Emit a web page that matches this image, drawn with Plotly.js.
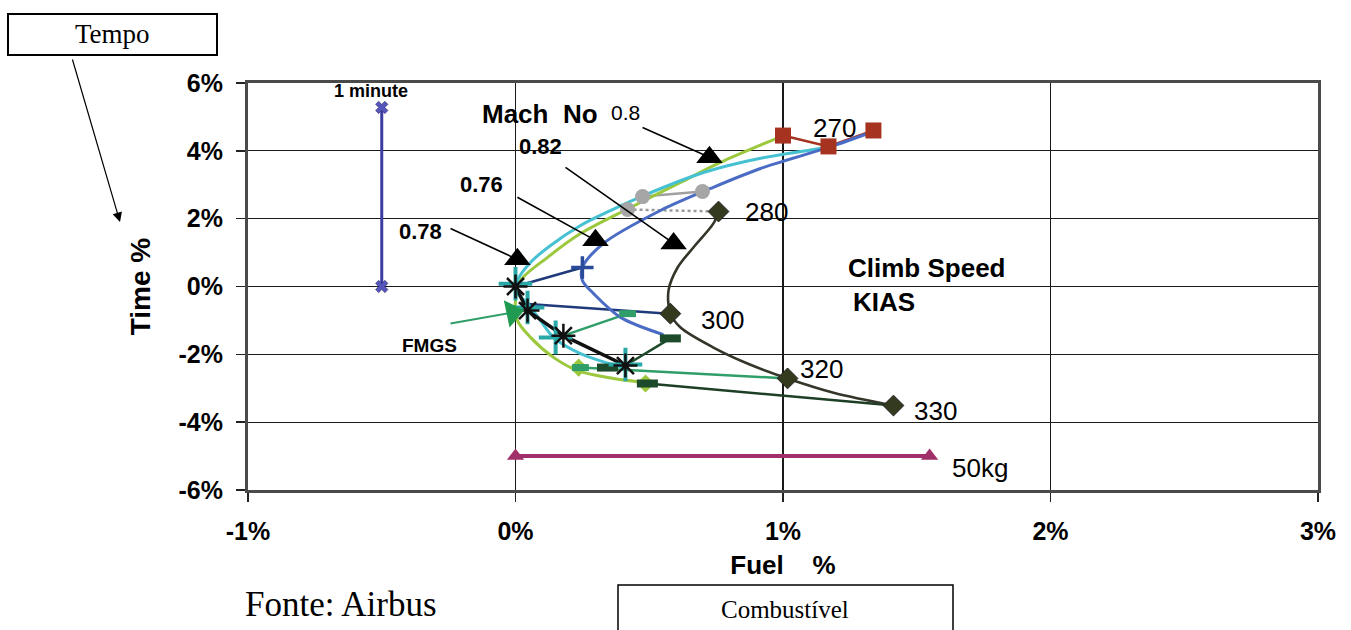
<!DOCTYPE html>
<html>
<head>
<meta charset="utf-8">
<script src="https://cdn.plot.ly/plotly-3.0.1.min.js"></script>
<style>
html,body{margin:0;padding:0;background:#fff;}
#chart{width:1351px;height:630px;}
</style>
</head>
<body>
<div id="chart"></div>
<script>
// ---------- data (fuel %, time %) ----------
const xTickVals = [-1, 0, 1, 2, 3];
const xTickText = ['-1%', '0%', '1%', '2%', '3%'];
const yTickVals = [-6, -4, -2, 0, 2, 4, 6];
const yTickText = ['-6%', '-4%', '-2%', '0%', '2%', '4%', '6%'];

// constant-Mach curves
const greenFuel = [1.002, 0.766, 0.617, 0.430, 0.243, 0.120, 0.019, 0.0, 0.007, 0.056, 0.142, 0.232, 0.366, 0.493];
const greenTime = [4.45, 3.66, 3.07, 2.33, 1.56, 0.86, 0.18, -0.41, -1.00, -1.50, -2.09, -2.48, -2.71, -2.83];
const cyanFuel = [1.166, 0.916, 0.703, 0.479, 0.355, 0.243, 0.131, 0.056, 0.007, 0.0, 0.045, 0.093, 0.142, 0.243, 0.400];
const cyanTime = [4.10, 3.78, 3.36, 2.68, 2.24, 1.80, 1.21, 0.71, 0.18, -0.12, -0.50, -1.00, -1.50, -1.98, -2.39];
const blueFuel = [1.338, 1.170, 0.916, 0.729, 0.542, 0.329, 0.250, 0.250, 0.292, 0.393, 0.553];
const blueTime = [4.57, 4.10, 3.48, 2.89, 2.24, 1.27, 0.56, 0.18, -0.21, -0.91, -1.42];
const darkFuel = [0.759, 0.740, 0.665, 0.606, 0.572, 0.579, 0.617, 0.740, 0.867, 1.017, 1.189, 1.413];
const darkTime = [2.21, 1.86, 1.15, 0.56, -0.12, -0.80, -1.21, -1.80, -2.27, -2.71, -3.13, -3.51];

// constant climb-speed points
const kiasFuel = [0.759, 0.579, 1.017, 1.413];
const kiasTime = [2.21, -0.80, -2.71, -3.51];
const redFuel = [1.0, 1.17, 1.338];
const redTime = [4.45, 4.13, 4.60];
const grayFuel = [0.419, 0.475, 0.699];
const grayTime = [2.27, 2.65, 2.80];
const grayLineFuel = [0.475, 0.699];
const grayLineTime = [2.65, 2.80];
const grayDashFuel = [0.419, 0.759];
const grayDashTime = [2.27, 2.21];

const starFuel = [0.0, 0.045, 0.179, 0.411];
const starTime = [0.0, -0.71, -1.45, -2.33];
const navy1Fuel = [0.0, 0.25];
const navy1Time = [0.0, 0.56];
const navy2Fuel = [0.02, 0.575];
const navy2Time = [-0.50, -0.80];
const sea1Fuel = [0.179, 0.419];
const sea1Time = [-1.45, -0.80];
const sea2Fuel = [0.243, 1.017];
const sea2Time = [-2.39, -2.71];
const dg1Fuel = [0.411, 0.579];
const dg1Time = [-2.33, -1.53];
const dg2Fuel = [0.493, 1.413];
const dg2Time = [-2.86, -3.51];
const dgMarkFuel = [0.344, 0.493, 0.579];
const dgMarkTime = [-2.39, -2.86, -1.53];
const lgDiaFuel = [0.236, 0.486];
const lgDiaTime = [-2.39, -2.86];
const seaMarkFuel = [0.419, 0.243];
const seaMarkTime = [-0.80, -2.39];
const tealFuel = [0.0, 0.045, 0.15, 0.411];
const tealTime = [0.08, -0.62, -1.5, -2.30];

// scale bars
const minuteFuel = [-0.5, -0.5];
const minuteTime = [0, 5.28];
const kgFuel = [0, 1.548];
const kgTime = [-5, -5];

// Mach arrows
const machLabels = ['0.78', '0.76', '0.82', '0.8'];
const arrowFromFuel = [-0.243, 0.007, 0.187, 0.475];
const arrowFromTime = [1.71, 2.63, 3.51, 4.69];
const arrowToFuel = [0.007, 0.299, 0.591, 0.725];
const arrowToTime = [0.80, 1.36, 1.27, 3.81];
const fmgsFuel = [-0.243, -0.011];
const fmgsTime = [-1.09, -0.77];

// ---------- traces ----------
const traces = [];
function line(x, y, color, width, dash) {
  return {x: x, y: y, mode: 'lines', type: 'scatter', hoverinfo: 'skip',
    line: {color: color, width: width, dash: dash || 'solid'}};
}
function marks(x, y, symbol, size, color, lineColor, lineWidth) {
  return {x: x, y: y, mode: 'markers', type: 'scatter', hoverinfo: 'skip',
    marker: {symbol: symbol, size: size, color: color,
      line: {color: lineColor || color, width: lineWidth || 0}}};
}
function curve(x, y, color, width) {
  return {x: x, y: y, mode: 'lines', type: 'scatter', hoverinfo: 'skip',
    line: {color: color, width: width, shape: 'spline', smoothing: 0.9}};
}

traces.push(line(minuteFuel, minuteTime, '#3b3ba0', 3));
traces.push(marks(minuteFuel, minuteTime, 'x', 11, '#5555bb', '#222255', 0.5));
traces.push(line(kgFuel, kgTime, '#a0306a', 4));
traces.push(marks(kgFuel, kgTime, 'triangle-up', 15, '#a0306a'));

traces.push(line(grayDashFuel, grayDashTime, '#9a9a9a', 2.5, 'dot'));
traces.push(line(grayLineFuel, grayLineTime, '#a0a0a0', 2.5));
traces.push(line(redFuel, redTime, '#a5331f', 2.5));

traces.push(line(sea2Fuel, sea2Time, '#2f9e68', 2.5));
traces.push(line(dg2Fuel, dg2Time, '#1d3f25', 2.5));
traces.push(line(navy2Fuel, navy2Time, '#1f3a7a', 2.5));
traces.push(line(navy1Fuel, navy1Time, '#1f3a7a', 2.5));
traces.push(line(sea1Fuel, sea1Time, '#2f9e68', 2.5));
traces.push(line(dg1Fuel, dg1Time, '#1d4a2a', 2.5));

traces.push(curve(greenFuel, greenTime, '#9bc83c', 3));
traces.push(curve(cyanFuel, cyanTime, '#45c1d2', 3));
traces.push(curve(blueFuel, blueTime, '#4b6cc4', 3));
traces.push(curve(darkFuel, darkTime, '#34362a', 2.6));

traces.push(line(starFuel, starTime, '#111111', 3.5));

traces.push(marks(lgDiaFuel, lgDiaTime, 'diamond', 14, '#9bc83c'));
traces.push(marks(dgMarkFuel, dgMarkTime, 'line-ew-open', 15, '#1d4a2a', '#1d4a2a', 8));
traces.push(marks(seaMarkFuel, seaMarkTime, 'line-ew-open', 12, '#2f9e68', '#2f9e68', 7));
traces.push(marks([navy1Fuel[1]], [navy1Time[1]], 'cross-thin-open', 16, '#2a4a9a', '#2a4a9a', 3.5));
traces.push(marks(tealFuel, tealTime, 'cross-thin-open', 24, '#2aa7a7', '#2aa7a7', 4));
traces.push(marks(starFuel, starTime, 'asterisk-open', 20, '#111111', '#111111', 2.5));

traces.push(marks(grayFuel, grayTime, 'circle', 15, '#a6a6a6'));
traces.push(marks(redFuel, redTime, 'square', 16, '#a5331f'));
traces.push(marks(kiasFuel, kiasTime, 'diamond', 16, '#333a1e', '#222222', 1));

// Mach arrows: line + triangle head
for (let i = 0; i < machLabels.length; i++) {
  traces.push(line([arrowFromFuel[i], arrowToFuel[i]], [arrowFromTime[i], arrowToTime[i]], '#000', 1.6));
  traces.push(marks([arrowToFuel[i]], [arrowToTime[i]], 'triangle-up', 23, '#000'));
}
// FMGS arrow
traces.push(line(fmgsFuel, fmgsTime, '#2f9e68', 2));
traces.push({x: [fmgsFuel[1]], y: [fmgsTime[1]], type: 'scatter', mode: 'markers', hoverinfo: 'skip',
  marker: {symbol: 'triangle-right', size: 24, color: '#1f9a50', angle: -12}});

// ---------- layout ----------
const L = 248, R = 1318, T = 83, B = 490;
const px = v => (v - L) / (R - L);
const py = v => (B - v) / (B - T);

const SANS = 'Liberation Sans, Arial, sans-serif';
const SERIF = 'Liberation Serif, Times New Roman, serif';
function lab(text, x, y, size, bold) {
  return {text: text, x: x, y: y, xref: 'x', yref: 'y', showarrow: false,
    xanchor: 'center', yanchor: 'middle',
    font: {family: SANS, size: size, color: '#000', weight: bold ? 'bold' : 'normal'}};
}
function page(text, x, y, size, xanchor) {
  return {text: text, x: px(x), y: py(y), xref: 'paper', yref: 'paper', showarrow: false,
    xanchor: xanchor || 'center', yanchor: 'middle',
    font: {family: SERIF, size: size, color: '#000'}};
}

const annotations = [
  lab('1 minute', -0.542, 5.75, 18, true),
  lab('Mach\u00a0\u00a0No', 0.093, 5.10, 26, true),
  lab('0.8', 0.411, 5.13, 21, false),
  lab(machLabels[2], 0.093, 4.13, 22, true),
  lab(machLabels[1], -0.127, 3.01, 22, true),
  lab(machLabels[0], -0.355, 1.62, 22, true),
  lab('270', 1.193, 4.66, 26, false),
  lab('280', 0.938, 2.21, 26, false),
  lab('300', 0.774, -1.00, 26, false),
  lab('320', 1.144, -2.42, 26, false),
  lab('330', 1.570, -3.66, 26, false),
  lab('50kg', 1.738, -5.34, 26, false),
  lab('Climb Speed', 1.536, 0.56, 26, true),
  lab('KIAS', 1.376, -0.47, 26, true),
  lab('FMGS', -0.321, -1.74, 19, true),
  page('Tempo', 112, 34, 27),
  {text: '', x: px(120), y: py(222), xref: 'paper', yref: 'paper', showarrow: true,
    axref: 'pixel', ayref: 'pixel',
    ax: 72 - 120, ay: 58 - 222, arrowhead: 2, arrowsize: 1.6, arrowwidth: 1.2, arrowcolor: '#000'},
  page('Fonte: Airbus', 243, 604, 35, 'left'),
  page('Combustível', 785, 609, 25)
];

const shapes = [
  {type: 'rect', xref: 'paper', yref: 'paper', x0: px(8), x1: px(217), y0: py(14), y1: py(55),
    line: {color: '#000', width: 2}},
  {type: 'rect', xref: 'paper', yref: 'paper', x0: px(618), x1: px(953), y0: py(585), y1: py(640),
    line: {color: '#000', width: 1.5}}
];

const layout = {
  width: 1351, height: 630,
  margin: {l: L, r: 1351 - R, t: T, b: 630 - B, pad: 0},
  paper_bgcolor: '#fff', plot_bgcolor: '#fff',
  showlegend: false,
  xaxis: {
    range: [-1, 3], tickvals: xTickVals, ticktext: xTickText,
    showgrid: true, gridcolor: '#1a1a1a', gridwidth: 1.3, zeroline: false,
    showline: true, linecolor: '#4a4a4a', linewidth: 3, mirror: true,
    ticks: 'outside', ticklen: 9, tickcolor: '#222', tickwidth: 1.5,
    ticklabelstandoff: 8,
    tickfont: {family: SANS, size: 25, color: '#000', weight: 'bold'},
    title: {text: 'Fuel\u00a0\u00a0\u00a0\u00a0%', font: {family: SANS, size: 26, color: '#000', weight: 'bold'}, standoff: 12}
  },
  yaxis: {
    range: [-6, 6], tickvals: yTickVals, ticktext: yTickText,
    showgrid: true, gridcolor: '#1a1a1a', gridwidth: 1.3, zeroline: false,
    showline: true, linecolor: '#4a4a4a', linewidth: 3, mirror: true,
    ticks: 'outside', ticklen: 9, tickcolor: '#222', tickwidth: 1.5,
    ticklabelstandoff: 8,
    tickfont: {family: SANS, size: 25, color: '#000', weight: 'bold'},
    title: {text: 'Time %', font: {family: SANS, size: 28, color: '#000', weight: 'bold'}, standoff: 20}
  },
  annotations: annotations,
  shapes: shapes
};

Plotly.newPlot('chart', traces, layout, {staticPlot: true, displayModeBar: false});
</script>
</body>
</html>
